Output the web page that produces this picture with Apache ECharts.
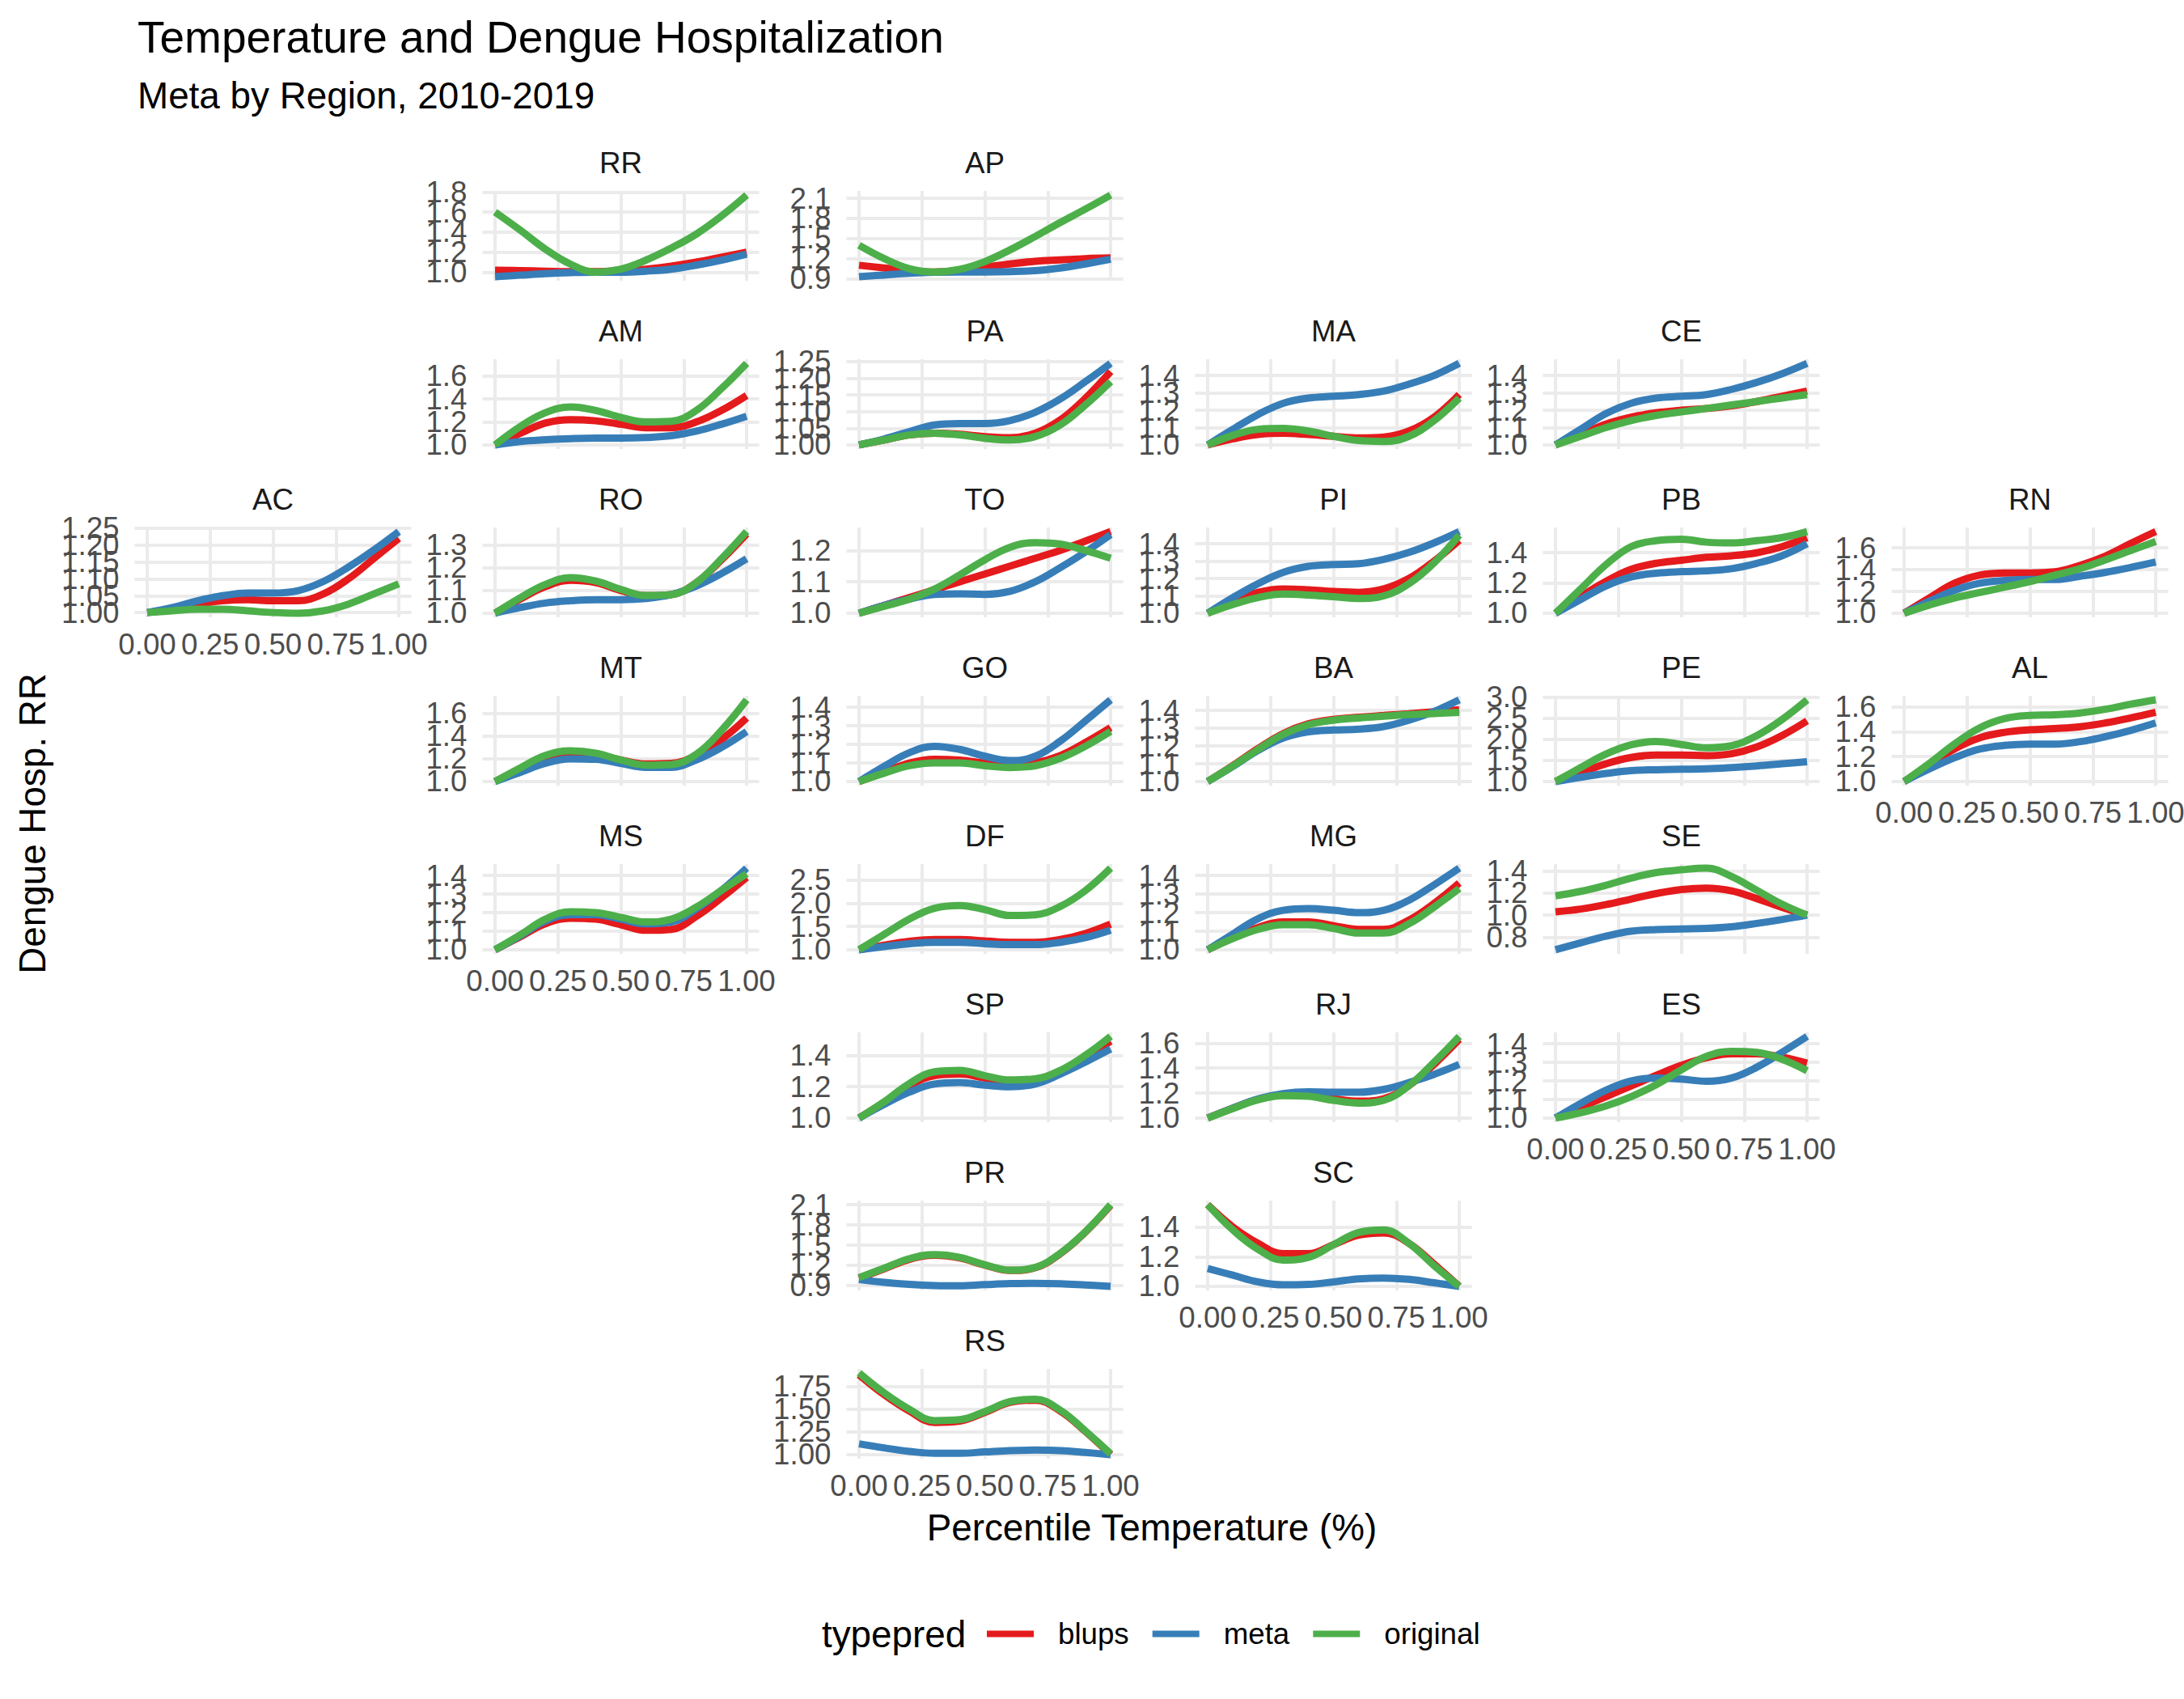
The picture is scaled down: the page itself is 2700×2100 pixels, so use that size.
<!DOCTYPE html>
<html>
<head>
<meta charset="utf-8">
<script src="https://cdn.jsdelivr.net/npm/echarts@6/dist/echarts.min.js"></script>
<style>
html,body{margin:0;padding:0;background:#ffffff;}
#chart{width:2700px;height:2100px;}
</style>
</head>
<body>
<div id="chart"></div>
<script>
// ---------------- DATA ----------------
const states = ['RR','AP','AM','PA','MA','CE','AC','RO','TO','PI','PB','RN','MT','GO','BA','PE','AL','MS','DF','MG','SE','SP','RJ','ES','PR','SC','RS'];
// geofacet cell of each state (row, column)
const gridRow = [0,0,1,1,1,1,2,2,2,2,2,2,3,3,3,3,3,4,4,4,4,5,5,5,6,6,7];
const gridCol = [1,2,1,2,3,4,0,1,2,3,4,5,1,2,3,4,5,1,2,3,4,2,3,4,2,3,2];

const pct = [0,0.1,0.2,0.3,0.4,0.5,0.6,0.7,0.8,0.9,1.0];

const blups = [
  [1.02,1.015,1.01,1.005,1.005,1.015,1.03,1.06,1.10,1.15,1.20],      // RR
  [1.10,1.06,1.02,1.0,1.02,1.07,1.12,1.16,1.18,1.20,1.21],           // AP
  [1.0,1.10,1.19,1.22,1.21,1.18,1.15,1.15,1.20,1.30,1.43],           // AM
  [1.0,1.015,1.03,1.035,1.032,1.025,1.022,1.035,1.075,1.14,1.22],    // PA
  [1.0,1.035,1.06,1.067,1.06,1.05,1.04,1.045,1.08,1.16,1.29],        // MA
  [1.0,1.06,1.12,1.16,1.185,1.20,1.21,1.225,1.25,1.28,1.31],         // CE
  [1.0,1.01,1.025,1.035,1.038,1.035,1.035,1.055,1.10,1.16,1.22],     // AC
  [1.0,1.062,1.117,1.145,1.135,1.10,1.077,1.082,1.135,1.235,1.35],   // RO
  [1.0,1.025,1.05,1.075,1.10,1.125,1.15,1.175,1.20,1.23,1.26],       // TO
  [1.0,1.07,1.12,1.14,1.135,1.125,1.12,1.14,1.20,1.30,1.42],         // PI
  [1.0,1.11,1.21,1.29,1.33,1.35,1.37,1.38,1.40,1.44,1.50],           // PB
  [1.0,1.14,1.275,1.35,1.37,1.37,1.38,1.44,1.525,1.64,1.75],         // RN
  [1.0,1.11,1.21,1.255,1.24,1.19,1.155,1.16,1.23,1.37,1.56],         // MT
  [1.0,1.05,1.10,1.12,1.115,1.10,1.09,1.10,1.14,1.21,1.29],          // GO
  [1.0,1.09,1.185,1.27,1.325,1.35,1.362,1.372,1.382,1.393,1.405],    // BA
  [1.0,1.21,1.42,1.57,1.63,1.63,1.615,1.66,1.82,2.09,2.44],          // PE
  [1.0,1.13,1.26,1.35,1.395,1.415,1.425,1.44,1.47,1.51,1.555],       // AL
  [1.0,1.07,1.14,1.17,1.165,1.135,1.105,1.11,1.18,1.28,1.39],        // MS
  [1.0,1.10,1.18,1.22,1.22,1.19,1.16,1.16,1.22,1.35,1.55],           // DF
  [1.0,1.065,1.12,1.15,1.15,1.13,1.11,1.11,1.16,1.25,1.36],          // MG
  [1.03,1.055,1.095,1.145,1.195,1.232,1.245,1.22,1.15,1.07,1.0],     // SE
  [1.0,1.10,1.205,1.27,1.28,1.255,1.235,1.245,1.30,1.39,1.49],       // SP
  [1.0,1.08,1.15,1.185,1.18,1.155,1.135,1.155,1.26,1.43,1.63],       // RJ
  [1.0,1.058,1.115,1.173,1.23,1.284,1.325,1.346,1.346,1.328,1.296],  // ES
  [1.01,1.15,1.29,1.35,1.31,1.205,1.125,1.165,1.375,1.695,2.09],     // PR
  [1.55,1.40,1.29,1.22,1.22,1.28,1.345,1.36,1.29,1.15,1.0],          // SC
  [1.88,1.66,1.48,1.355,1.37,1.465,1.575,1.60,1.48,1.255,1.0]        // RS
];

const meta = [
  [0.955,0.97,0.985,0.995,1.0,1.0,1.01,1.03,1.07,1.12,1.18],         // RR
  [0.93,0.955,0.98,0.995,1.0,1.0,1.005,1.02,1.06,1.12,1.19],         // AP
  [1.0,1.03,1.045,1.055,1.06,1.06,1.065,1.08,1.12,1.18,1.25],        // AM
  [1.0,1.018,1.04,1.06,1.064,1.064,1.073,1.098,1.138,1.19,1.245],    // PA
  [1.0,1.09,1.175,1.24,1.27,1.28,1.29,1.31,1.35,1.40,1.47],          // MA
  [1.0,1.09,1.18,1.24,1.27,1.28,1.29,1.32,1.36,1.41,1.47],           // CE
  [1.0,1.015,1.035,1.05,1.058,1.058,1.065,1.092,1.135,1.185,1.24],   // AC
  [1.0,1.025,1.045,1.055,1.06,1.06,1.065,1.082,1.12,1.175,1.24],     // RO
  [1.0,1.025,1.045,1.06,1.062,1.06,1.07,1.10,1.145,1.195,1.25],      // TO
  [1.0,1.09,1.17,1.235,1.27,1.28,1.285,1.31,1.35,1.405,1.47],        // PI
  [1.0,1.09,1.18,1.24,1.265,1.275,1.28,1.295,1.33,1.38,1.46],        // PB
  [1.0,1.11,1.21,1.275,1.30,1.31,1.31,1.34,1.375,1.42,1.47],         // RN
  [1.0,1.08,1.16,1.20,1.195,1.16,1.125,1.125,1.19,1.30,1.44],        // MT
  [1.0,1.082,1.155,1.19,1.173,1.136,1.113,1.136,1.218,1.327,1.44],   // GO
  [1.0,1.085,1.175,1.245,1.28,1.29,1.295,1.31,1.345,1.395,1.46],     // BA
  [1.0,1.10,1.19,1.26,1.28,1.29,1.30,1.33,1.37,1.42,1.47],           // PE
  [1.0,1.10,1.19,1.26,1.29,1.30,1.30,1.32,1.36,1.41,1.47],           // AL
  [1.0,1.075,1.155,1.19,1.19,1.165,1.14,1.15,1.22,1.32,1.44],        // MS
  [1.0,1.07,1.13,1.16,1.16,1.13,1.11,1.11,1.16,1.26,1.42],           // DF
  [1.0,1.085,1.167,1.213,1.222,1.213,1.20,1.213,1.267,1.35,1.44],    // MG
  [0.687,0.75,0.81,0.855,0.87,0.875,0.88,0.895,0.925,0.96,1.0],      // SE
  [1.0,1.087,1.165,1.217,1.226,1.21,1.20,1.217,1.28,1.357,1.44],     // SP
  [1.0,1.08,1.153,1.196,1.21,1.207,1.207,1.23,1.284,1.35,1.43],      // RJ
  [1.0,1.079,1.15,1.20,1.216,1.21,1.198,1.216,1.274,1.354,1.44],     // ES
  [0.99,0.95,0.92,0.902,0.898,0.915,0.93,0.935,0.928,0.91,0.89],     // PR
  [1.12,1.075,1.03,1.01,1.013,1.03,1.05,1.056,1.047,1.024,1.0],      // SC
  [1.119,1.074,1.036,1.015,1.015,1.03,1.045,1.05,1.045,1.024,1.0]    // RS
];

const original = [
  [1.60,1.42,1.23,1.08,1.0,1.03,1.12,1.24,1.38,1.56,1.77],           // RR
  [1.40,1.20,1.05,1.0,1.04,1.155,1.33,1.53,1.74,1.94,2.15],          // AP
  [1.0,1.16,1.28,1.33,1.30,1.24,1.20,1.205,1.30,1.49,1.71],          // AM
  [1.0,1.015,1.03,1.035,1.03,1.02,1.015,1.025,1.06,1.12,1.19],       // PA
  [1.0,1.055,1.09,1.095,1.08,1.05,1.025,1.02,1.05,1.14,1.27],        // MA
  [1.0,1.05,1.10,1.14,1.17,1.19,1.21,1.23,1.25,1.27,1.29],           // CE
  [1.0,1.005,1.01,1.01,1.005,1.0,0.998,1.005,1.025,1.055,1.085],     // AC
  [1.0,1.068,1.127,1.157,1.142,1.105,1.078,1.082,1.135,1.24,1.36],   // RO
  [1.0,1.022,1.045,1.077,1.122,1.17,1.21,1.225,1.22,1.20,1.175],     // TO
  [1.0,1.05,1.09,1.11,1.105,1.095,1.085,1.10,1.17,1.29,1.45],        // PI
  [1.0,1.16,1.32,1.44,1.48,1.49,1.47,1.465,1.48,1.50,1.54],          // PB
  [1.0,1.075,1.14,1.19,1.24,1.29,1.35,1.41,1.49,1.575,1.66],         // RN
  [1.0,1.12,1.23,1.27,1.25,1.19,1.145,1.15,1.24,1.45,1.72],          // MT
  [1.0,1.045,1.085,1.10,1.10,1.085,1.075,1.085,1.125,1.19,1.27],     // GO
  [1.0,1.087,1.18,1.265,1.32,1.345,1.358,1.368,1.377,1.383,1.39],    // BA
  [1.0,1.33,1.65,1.87,1.95,1.88,1.80,1.85,2.09,2.47,2.94],           // PE
  [1.0,1.145,1.30,1.43,1.505,1.53,1.535,1.55,1.58,1.62,1.655],       // AL
  [1.0,1.08,1.165,1.205,1.20,1.175,1.15,1.165,1.23,1.32,1.41],       // MS
  [1.0,1.33,1.66,1.89,1.95,1.86,1.735,1.75,1.93,2.27,2.75],          // DF
  [1.0,1.06,1.11,1.135,1.135,1.115,1.09,1.09,1.14,1.23,1.33],        // MG
  [1.175,1.215,1.27,1.335,1.385,1.41,1.425,1.35,1.225,1.10,1.0],     // SE
  [1.0,1.104,1.22,1.295,1.304,1.27,1.243,1.25,1.304,1.40,1.52],      // SP
  [1.0,1.076,1.146,1.18,1.174,1.142,1.12,1.142,1.26,1.447,1.654],    // RJ
  [1.0,1.029,1.065,1.115,1.18,1.26,1.332,1.36,1.354,1.317,1.255],    // ES
  [1.02,1.16,1.30,1.36,1.32,1.21,1.13,1.17,1.38,1.70,2.10],          // PR
  [1.55,1.38,1.25,1.177,1.195,1.28,1.363,1.38,1.29,1.14,1.0],        // SC
  [1.90,1.68,1.50,1.375,1.385,1.475,1.585,1.61,1.49,1.26,1.01]       // RS
];

const yTickLabels = [
  ['1.0','1.2','1.4','1.6','1.8'],               // RR
  ['0.9','1.2','1.5','1.8','2.1'],               // AP
  ['1.0','1.2','1.4','1.6'],                     // AM
  ['1.00','1.05','1.10','1.15','1.20','1.25'],   // PA
  ['1.0','1.1','1.2','1.3','1.4'],               // MA
  ['1.0','1.1','1.2','1.3','1.4'],               // CE
  ['1.00','1.05','1.10','1.15','1.20','1.25'],   // AC
  ['1.0','1.1','1.2','1.3'],                     // RO
  ['1.0','1.1','1.2'],                           // TO
  ['1.0','1.1','1.2','1.3','1.4'],               // PI
  ['1.0','1.2','1.4'],                           // PB
  ['1.0','1.2','1.4','1.6'],                     // RN
  ['1.0','1.2','1.4','1.6'],                     // MT
  ['1.0','1.1','1.2','1.3','1.4'],               // GO
  ['1.0','1.1','1.2','1.3','1.4'],               // BA
  ['1.0','1.5','2.0','2.5','3.0'],               // PE
  ['1.0','1.2','1.4','1.6'],                     // AL
  ['1.0','1.1','1.2','1.3','1.4'],               // MS
  ['1.0','1.5','2.0','2.5'],                     // DF
  ['1.0','1.1','1.2','1.3','1.4'],               // MG
  ['0.8','1.0','1.2','1.4'],                     // SE
  ['1.0','1.2','1.4'],                           // SP
  ['1.0','1.2','1.4','1.6'],                     // RJ
  ['1.0','1.1','1.2','1.3','1.4'],               // ES
  ['0.9','1.2','1.5','1.8','2.1'],               // PR
  ['1.0','1.2','1.4'],                           // SC
  ['1.00','1.25','1.50','1.75']                  // RS
];
const xTickLabels = ['0.00','0.25','0.50','0.75','1.00'];
const seriesNames = ['blups','meta','original'];
const titleText = 'Temperature and Dengue Hospitalization';
const subtitleText = 'Meta by Region, 2010-2019';
const xTitle = 'Percentile Temperature (%)';
const yTitle = 'Dengue Hosp. RR';
const legendTitle = 'typepred';

// ---------------- LAYOUT / STYLE ----------------
const FONT = "'Liberation Sans', Arial, Helvetica, sans-serif";
const COLORS = ['#E41A1C', '#377EB8', '#4DAF4A'];
const colX0 = [182, 612, 1062, 1493, 1923, 2354];
const DATA_W = 311;
const PANEL_W = DATA_W * 1.1;
const ROW_TOP0 = 236, ROW_STEP = 208, PANEL_H = 111;
const GRID_COLOR = '#EBEBEB';
const AXIS_TEXT = '#4D4D4D';

const seriesData = [blups, meta, original];

function hasPanelBelow(i) {
  for (let k = 0; k < states.length; k++) {
    if (gridCol[k] === gridCol[i] && gridRow[k] > gridRow[i]) return true;
  }
  return false;
}

const grids = [], xAxes = [], yAxes = [], series = [], graphics = [];
const labelStyle = {fontSize: 36.7, color: AXIS_TEXT, fontFamily: FONT};

states.forEach((st, i) => {
  const left = colX0[gridCol[i]] - DATA_W * 0.05;
  const top = ROW_TOP0 + ROW_STEP * gridRow[i];
  grids.push({
    left: left, top: top, width: PANEL_W, height: PANEL_H,
    containLabel: false, outerBoundsMode: 'none', show: false
  });
  const showX = !hasPanelBelow(i);
  const xTicks = xTickLabels.map(Number);
  xAxes.push({
    type: 'value', gridIndex: i, min: -0.05, max: 1.05,
    axisLine: {show: false}, axisTick: {show: false, customValues: xTicks},
    splitLine: {show: true, lineStyle: {color: GRID_COLOR, width: 4}},
    axisLabel: Object.assign({
      show: showX, customValues: xTicks, margin: 15,
      hideOverlap: false, showMinLabel: true, showMaxLabel: true,
      formatter: v => xTickLabels[Math.round(v * 4)]
    }, labelStyle)
  });
  const all = blups[i].concat(meta[i], original[i]);
  const lo = Math.min.apply(null, all), hi = Math.max.apply(null, all);
  const pad = (hi - lo) * 0.05;
  const ticks = yTickLabels[i].map(Number);
  // main y axis of the panel: scale + grid lines
  const mainY = yAxes.length;
  yAxes.push({
    type: 'value', gridIndex: i, min: lo - pad, max: hi + pad, position: 'left',
    axisLine: {show: false}, axisTick: {show: false, customValues: ticks},
    splitLine: {show: true, lineStyle: {color: GRID_COLOR, width: 4}},
    axisLabel: {show: false}
  });
  // one label axis per tick so that every tick label is kept, as in the reference
  yTickLabels[i].forEach(lab => {
    yAxes.push({
      type: 'value', gridIndex: i, min: lo - pad, max: hi + pad, position: 'left', offset: 0,
      axisLine: {show: false}, axisTick: {show: false, customValues: [Number(lab)]},
      splitLine: {show: false},
      axisLabel: Object.assign({
        show: true, customValues: [Number(lab)], margin: 19,
        hideOverlap: false, showMinLabel: true, showMaxLabel: true,
        formatter: () => lab
      }, labelStyle)
    });
  });
  seriesNames.forEach((nm, s) => {
    series.push({
      name: nm, type: 'line', xAxisIndex: i, yAxisIndex: mainY,
      data: pct.map((x, j) => [x, seriesData[s][i][j]]),
      smooth: 0.4, showSymbol: false, symbol: 'none',
      lineStyle: {color: COLORS[s], width: 9, cap: 'butt'},
      itemStyle: {color: COLORS[s]},
      emphasis: {disabled: true}, silent: true, z: 2 + s
    });
  });
  graphics.push({
    type: 'text', x: left + PANEL_W / 2, y: top - 35,
    style: {text: st, textAlign: 'center', textVerticalAlign: 'middle', align: 'center', verticalAlign: 'middle',
            fontSize: 36.7, fontFamily: FONT, fill: '#1A1A1A'}
  });
});

graphics.push({
  type: 'text', x: 1424, y: 1888,
  style: {text: xTitle, textAlign: 'center', textVerticalAlign: 'middle', align: 'center', verticalAlign: 'middle',
          fontSize: 45.8, fontFamily: FONT, fill: '#000000'}
});
graphics.push({
  type: 'text', x: 40, y: 1018, rotation: Math.PI / 2,
  style: {text: yTitle, textAlign: 'center', textVerticalAlign: 'middle', align: 'center', verticalAlign: 'middle',
          fontSize: 45.8, fontFamily: FONT, fill: '#000000'}
});
graphics.push({
  type: 'text', x: 1016, y: 2020,
  style: {text: legendTitle, textAlign: 'left', textVerticalAlign: 'middle', align: 'left', verticalAlign: 'middle',
          fontSize: 45.8, fontFamily: FONT, fill: '#000000'}
});

const chart = echarts.init(document.getElementById('chart'), null, {renderer: 'svg', width: 2700, height: 2100});
chart.setOption({
  backgroundColor: '#ffffff',
  animation: false,
  title: [
    {text: titleText, left: 170, top: 18, padding: 0,
     textStyle: {fontSize: 55, fontWeight: 'normal', color: '#000000', fontFamily: FONT}},
    {text: subtitleText, left: 170, top: 95, padding: 0,
     textStyle: {fontSize: 45.8, fontWeight: 'normal', color: '#000000', fontFamily: FONT}}
  ],
  legend: {
    data: seriesNames, left: 1220, top: 2001, padding: 0,
    icon: 'rect', itemWidth: 58, itemHeight: 8, itemGap: 29,
    selectedMode: false,
    textStyle: {fontSize: 36.7, color: '#000000', fontFamily: FONT, padding: [0, 0, 0, 25]}
  },
  grid: grids,
  xAxis: xAxes,
  yAxis: yAxes,
  series: series,
  graphic: {elements: graphics}
});
</script>
</body>
</html>
